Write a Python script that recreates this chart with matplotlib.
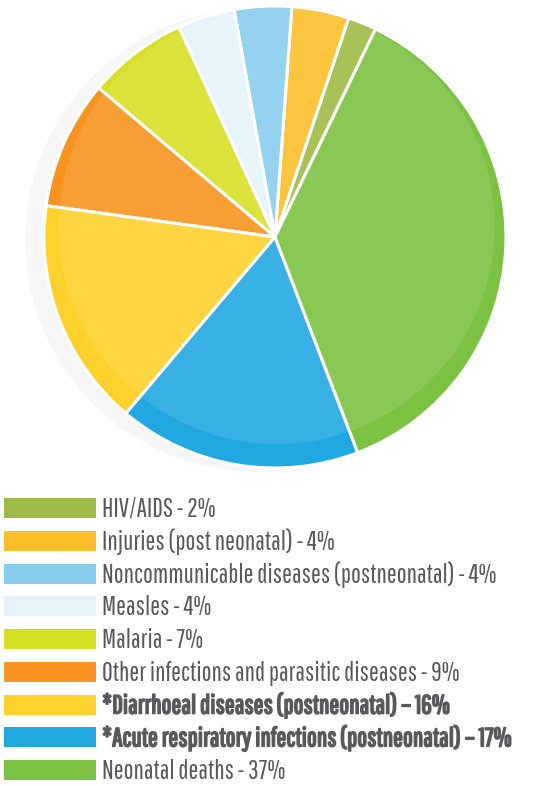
import matplotlib
matplotlib.use("Agg")
import matplotlib.pyplot as plt
import matplotlib.patheffects as pe
from matplotlib.patches import Circle, Rectangle

# legend order (also the counter-clockwise order of the slices)
causes = [
    "HIV/AIDS",
    "Injuries (post neonatal)",
    "Noncommunicable diseases (postneonatal)",
    "Measles",
    "Malaria",
    "Other infections and parasitic diseases",
    "*Diarrhoeal diseases (postneonatal)",
    "*Acute respiratory infections (postneonatal)",
    "Neonatal deaths",
]
shares = [2, 4, 4, 4, 7, 9, 16, 17, 37]
highlight = [False, False, False, False, False, False, True, True, False]
colors = ["#9fbb47", "#fbbf2b", "#88cdee", "#e6f3fb", "#d7df25",
          "#f7931f", "#fdd12b", "#22a8e0", "#7cc242"]

W, H = 548, 786
fig = plt.figure(figsize=(W / 100, H / 100), dpi=100)

# pie axes: center (275, 237) px, radius 231 px
cx, cy, r = 275, 237, 231
half = 250
ax = fig.add_axes([(cx - half) / W, (H - cy - half) / H, 2 * half / W, 2 * half / H])

# soft grey shadow behind the pie
ax.add_patch(Circle((-18 / r, -3 / r), 1.0, color="#f6f6f6", zorder=0))

wedges, _ = ax.pie(
    shares, colors=colors, startangle=64.2, counterclock=True, radius=1.0,
    wedgeprops=dict(edgecolor="white", linewidth=2.2),
)
for w in wedges:
    w.set_zorder(1)

# lighter inner disc, shifted up a little -> darker rim along the bottom
glow = Circle((1.5 / r, 11 / r), (r - 13) / r, color="white", alpha=0.1,
              linewidth=0, zorder=2)
ax.add_patch(glow)

# pie() resets the limits, so set them afterwards
lim = half / r
ax.set_xlim(-lim, lim)
ax.set_ylim(-lim, lim)
ax.set_aspect("equal")
ax.axis("off")

# legend
text_color = "#58595b"
fonts = ["Pathway Gothic One", "Oswald", "Roboto Condensed", "DejaVu Sans"]
for i, (name, val, bold, col) in enumerate(zip(causes, shares, highlight, colors)):
    top = 498 + 32.75 * i
    fig.add_artist(Rectangle((4 / W, 1 - (top + 20) / H), 92 / W, 20 / H,
                             transform=fig.transFigure, color=col, linewidth=0))
    dash = "\u2013" if bold else "-"
    t = fig.text(102 / W, 1 - (top + 19) / H, f"{name} {dash} {val}%",
                 fontsize=18.8, color=text_color, va="baseline", ha="left",
                 family=fonts)
    if bold:
        t.set_path_effects([pe.withStroke(linewidth=1.2, foreground=text_color)])

fig.savefig("out.png", dpi=100)
